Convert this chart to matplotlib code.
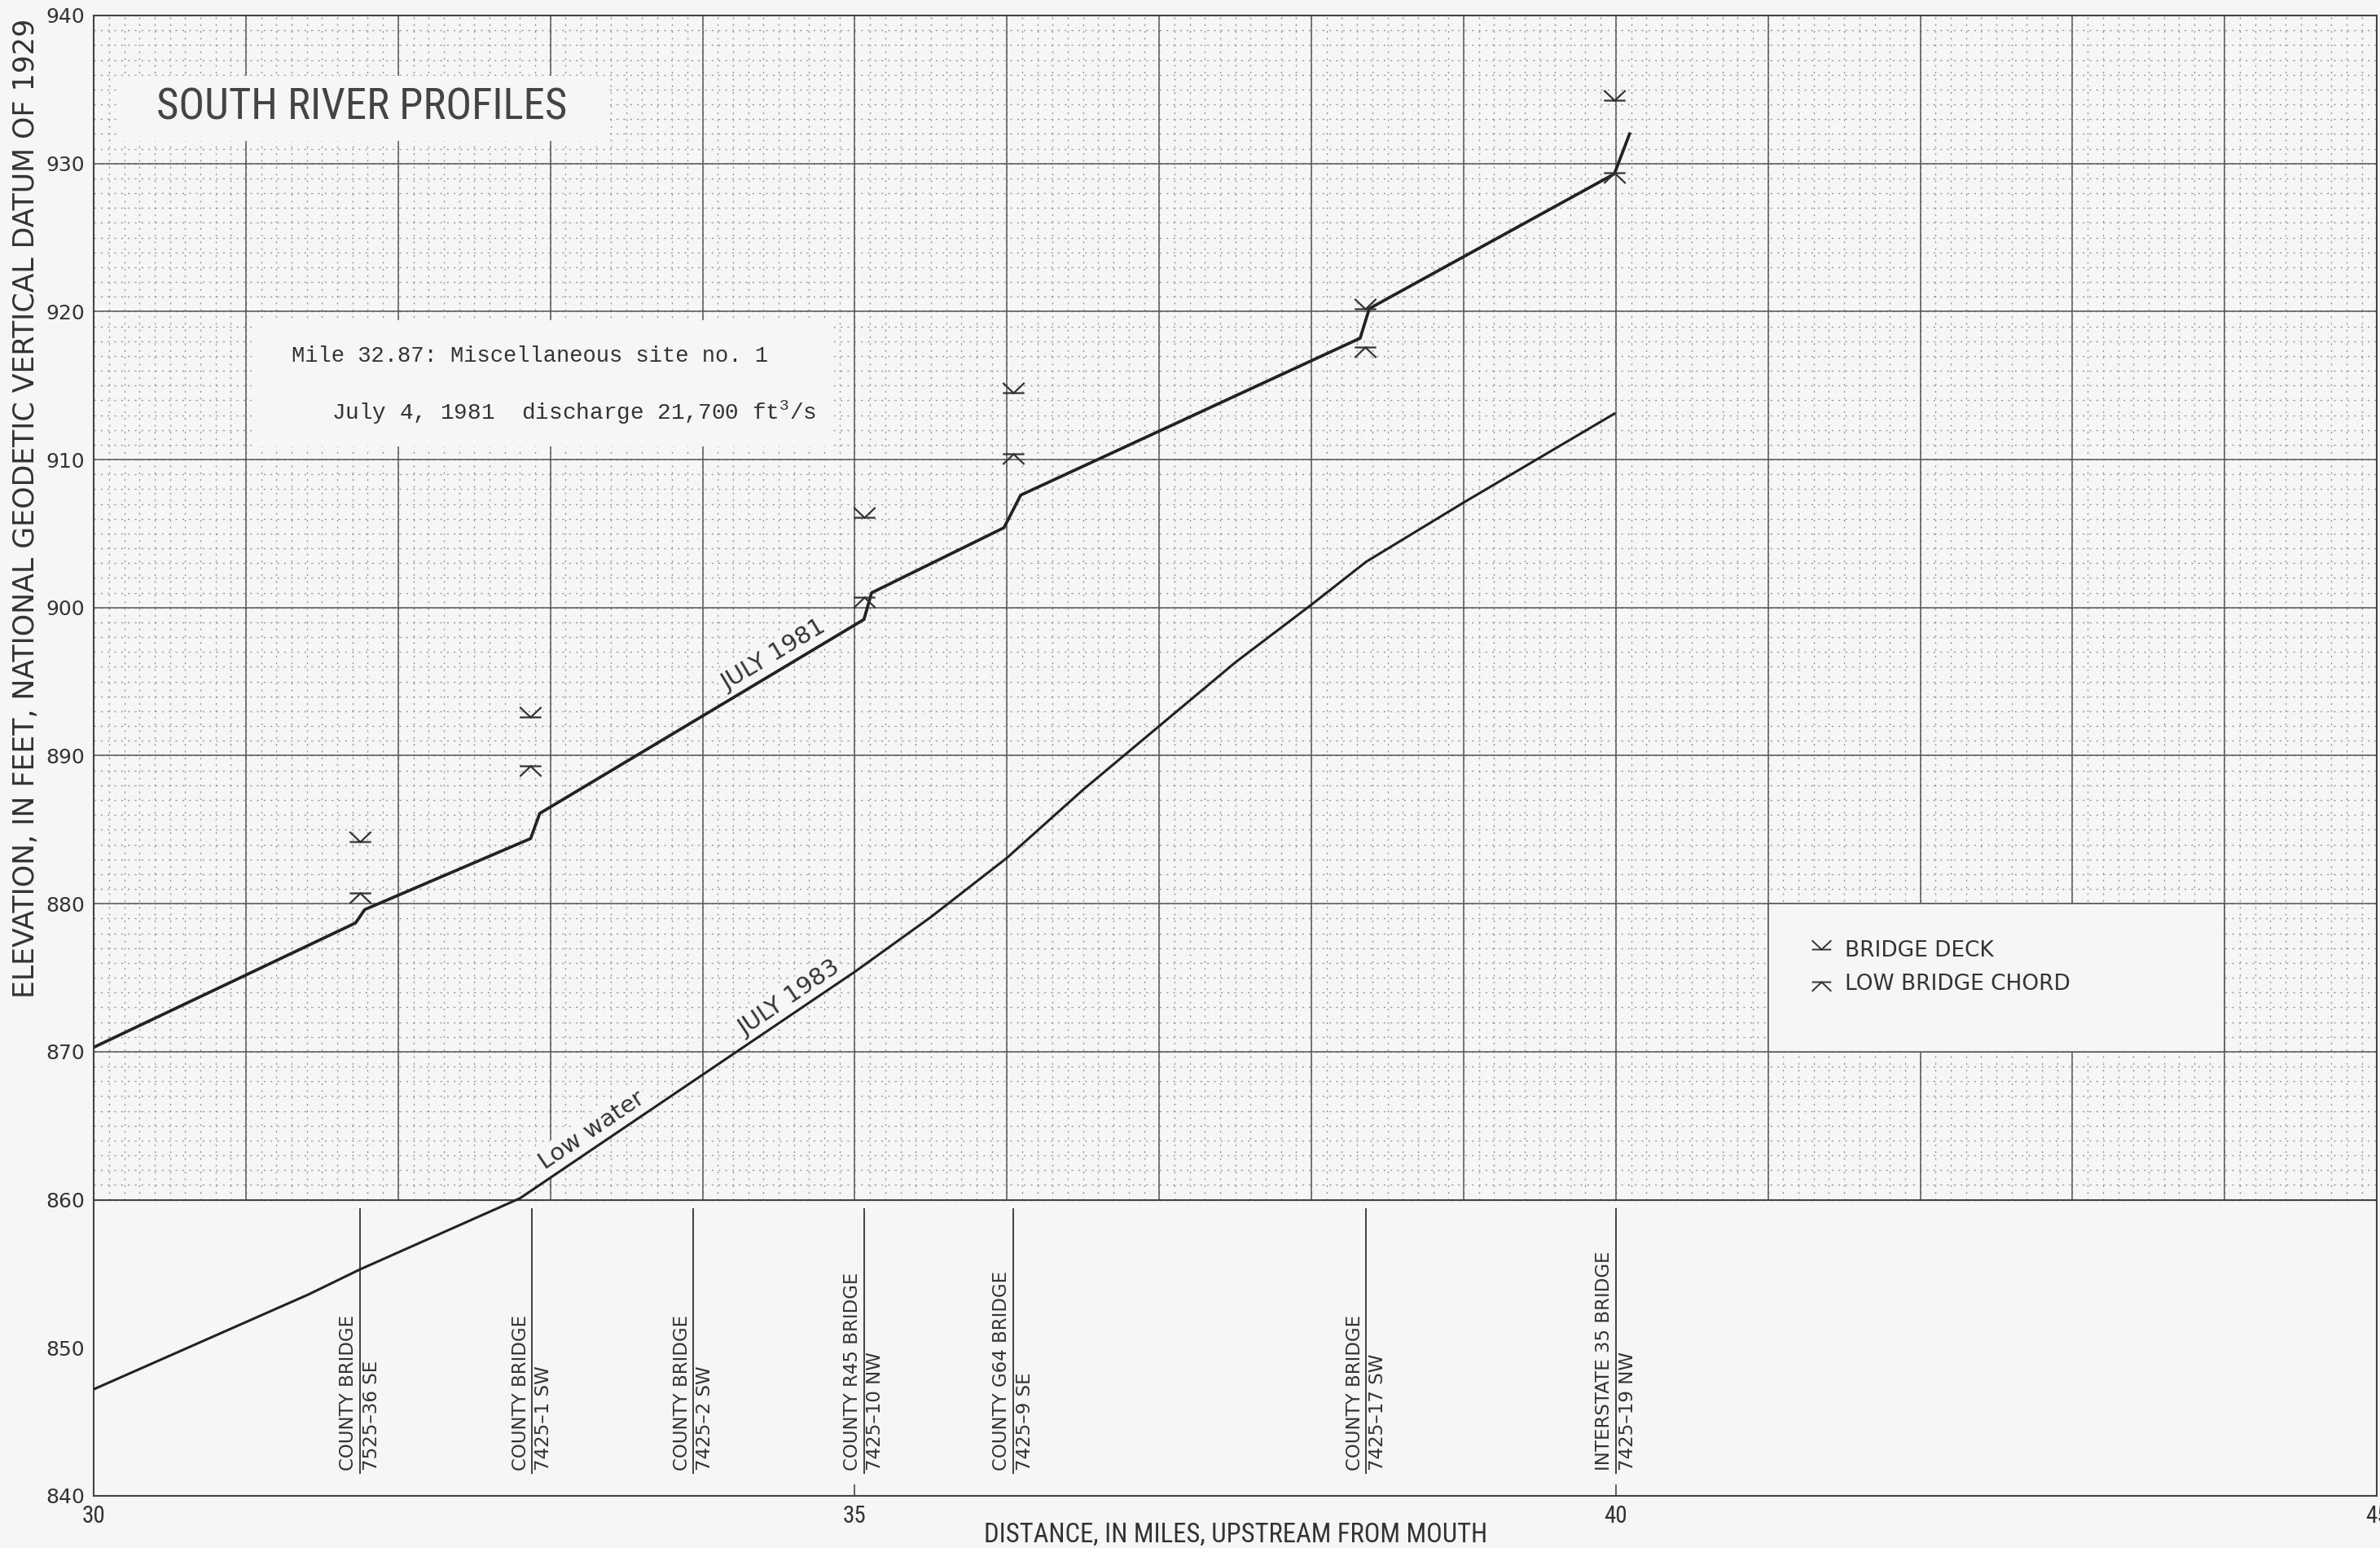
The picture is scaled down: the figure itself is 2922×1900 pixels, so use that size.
import numpy as np
import matplotlib
matplotlib.use('Agg')
import matplotlib.pyplot as plt
import matplotlib.transforms as mtransforms
from matplotlib.path import Path
from matplotlib.patches import Rectangle
from matplotlib.lines import Line2D

# water-surface profile of the July 1981 flood (miles upstream, elevation ft)
x_1981 = [30.0, 31.72, 31.78, 32.87, 32.93, 35.06, 35.11, 35.98, 36.09, 38.32, 38.38, 39.99, 40.09]
y_1981 = [870.3, 878.7, 879.6, 884.4, 886.1, 899.2, 901.0, 905.4, 907.6, 918.2, 920.2, 929.3, 932.0]

# low-water profile, July 1983
x_1983 = [30.0, 31.41, 31.75, 32.8, 35.0, 35.5, 36.0, 36.5, 37.0, 37.5, 38.0, 38.36, 39.0, 39.99]
y_1983 = [847.2, 853.6, 855.3, 860.1, 875.4, 879.1, 883.1, 887.7, 892.0, 896.3, 900.2, 903.1, 907.1, 913.1]

# bridge deck and low chord elevations
mark_x = [31.75, 32.87, 35.06, 36.04, 38.35, 39.99]
deck_y = [884.2, 892.6, 906.1, 914.5, 920.2, 934.3]
chord_y = [880.7, 889.3, 900.7, 910.4, 917.6, 929.4]

# bridges listed along the bottom of the profile
bridge_x = [31.75, 32.88, 33.94, 35.06, 36.04, 38.36, 40.0]
bridge_name = ['COUNTY BRIDGE', 'COUNTY BRIDGE', 'COUNTY BRIDGE', 'COUNTY R45 BRIDGE',
               'COUNTY G64 BRIDGE', 'COUNTY BRIDGE', 'INTERSTATE 35 BRIDGE']
bridge_id = ['7525\u201336 SE', '7425\u20131 SW', '7425\u20132 SW', '7425\u201310 NW',
             '7425\u20139 SE', '7425\u201317 SW', '7425\u201319 NW']

xticks = [30, 35, 40, 45]
yticks = list(range(840, 941, 10))

paper = '#f6f6f4'
ink = '#333333'
narrow = ['Liberation Sans Narrow', 'Roboto Condensed', 'DejaVu Sans']

# deck: bar with a V opening upward; chord: bar with the V opening downward
deck_marker = Path([(-1, 0), (1, 0), (-1, 0.95), (0, 0), (1, 0.95)],
                   [Path.MOVETO, Path.LINETO, Path.MOVETO, Path.LINETO, Path.LINETO])
chord_marker = Path([(-1, 0), (1, 0), (-1, -0.95), (0, 0), (1, -0.95)],
                    [Path.MOVETO, Path.LINETO, Path.MOVETO, Path.LINETO, Path.LINETO])

fig = plt.figure(figsize=(29.22, 19.0), dpi=100, facecolor=paper)
ax = fig.add_axes([0.0394, 0.0337, 0.9593, 0.9563])
ax.set_facecolor(paper)
ax.set_xlim(30, 45)
ax.set_ylim(840, 940)

# graph-paper grid, only above 860 ft
minor_x = np.arange(30, 45.001, 0.1)
minor_y = np.arange(860, 940.001, 1)
ax.vlines(minor_x, 860, 940, colors='#959595', linestyles=(0, (1.5, 4.5)), linewidth=1.0, zorder=1)
ax.hlines(minor_y, 30, 45, colors='#959595', linestyles=(0, (1.5, 4.5)), linewidth=1.0, zorder=1)
ax.vlines(np.arange(30, 46, 1), 860, 940, colors='#555555', linewidth=1.1, zorder=1.2)
ax.hlines(np.arange(860, 941, 10), 30, 45, colors='#555555', linewidth=1.1, zorder=1.2)
ax.axhline(860, color='#444444', linewidth=1.5, zorder=1.3)

# blank panels for the title, site note and explanation
ax.add_patch(Rectangle((30.17, 931.5), 3.2, 4.4, facecolor=paper, edgecolor='none', zorder=1.5))
ax.add_patch(Rectangle((31.04, 910.9), 3.81, 8.5, facecolor=paper, edgecolor='none', zorder=1.5))
ax.add_patch(Rectangle((41.0, 870.0), 3.0, 10.0, facecolor=paper, edgecolor='#555555',
                       linewidth=1.1, zorder=1.5))

ax.text(30.41, 933.8, 'SOUTH RIVER PROFILES', family=narrow, fontsize=38,
        color='#444444', ha='left', va='center', zorder=4)
ax.text(31.3, 917.0, 'Mile 32.87: Miscellaneous site no. 1', family='Liberation Mono',
        fontsize=19.5, color=ink, ha='left', va='center', zorder=4)
ax.text(31.56, 913.2, 'July 4, 1981  discharge 21,700 ft$^{\\mathregular{3}}$/s',
        family='Liberation Mono', fontsize=20, color=ink, ha='left', va='center', zorder=4)

# profiles
ax.plot(x_1981, y_1981, color='#222222', linewidth=2.7, solid_joinstyle='round', zorder=3)
ax.plot(x_1983, y_1983, color='#222222', linewidth=2.2, solid_joinstyle='round', zorder=3)

ax.plot(mark_x, deck_y, linestyle='none', marker=deck_marker, markersize=19,
        markeredgewidth=1.6, markeredgecolor='#333333', markerfacecolor='none', zorder=3)
ax.plot(mark_x, chord_y, linestyle='none', marker=chord_marker, markersize=19,
        markeredgewidth=1.6, markeredgecolor='#333333', markerfacecolor='none', zorder=3)


def line_label(xs, ys, xa, xb, text, dy):
    ya, yb = np.interp([xa, xb], xs, ys)
    ang = np.degrees(np.arctan2(yb - ya, xb - xa))
    xm = 0.5 * (xa + xb)
    ym = np.interp(xm, xs, ys) + dy
    ax.text(xm, ym, text, rotation=ang, transform_rotates_text=True,
            rotation_mode='anchor', ha='center', va='center', fontsize=21,
            color=ink, zorder=2.5,
            bbox=dict(facecolor=paper, edgecolor='none', pad=3))


line_label(x_1981, y_1981, 34.1, 34.84, 'JULY 1981', 1.2)
line_label(x_1983, y_1983, 34.2, 34.94, 'JULY 1983', 1.2)
line_label(x_1983, y_1983, 32.9, 33.64, 'Low water', 1.3)

# bridge names split by a vertical line at each crossing
for bx, name, bid in zip(bridge_x, bridge_name, bridge_id):
    ax.vlines(bx, 841.5, 859.4, colors='#333333', linewidth=1.3, zorder=2)
    ax.annotate(name, (bx, 841.7), xytext=(-2, 0), textcoords='offset points',
                rotation=90, ha='right', va='bottom', fontsize=16.5, color=ink)
    ax.annotate(bid, (bx, 841.7), xytext=(2, 0), textcoords='offset points',
                rotation=90, ha='left', va='bottom', fontsize=16.5, color=ink)

handles = [Line2D([], [], linestyle='none', marker=deck_marker, markersize=17,
                  markeredgewidth=1.4, markeredgecolor='#333333', markerfacecolor='none'),
           Line2D([], [], linestyle='none', marker=chord_marker, markersize=17,
                  markeredgewidth=1.4, markeredgecolor='#333333', markerfacecolor='none')]
leg = ax.legend(handles, ['BRIDGE DECK', 'LOW BRIDGE CHORD'], loc='center left',
                bbox_to_anchor=(41.15, 875.7), bbox_transform=ax.transData,
                frameon=False, fontsize=19, handlelength=1.0, handletextpad=0.6,
                labelspacing=0.55)
for t in leg.get_texts():
    t.set_color(ink)
leg.set_zorder(4)

# axes frame, ticks and labels
for s in ax.spines.values():
    s.set_color('#444444')
    s.set_linewidth(1.5)
ax.set_xticks(xticks)
ax.set_xticklabels([str(v) for v in xticks], family=narrow, fontsize=21, color=ink)
ax.set_yticks(yticks)
ax.set_yticklabels([str(v) for v in yticks], fontsize=18, color=ink)
ax.tick_params(axis='x', direction='in', length=10, width=1.2, color='#444444', pad=8)
ax.tick_params(axis='y', length=0, pad=8)

trans_y = mtransforms.blended_transform_factory(ax.transAxes, ax.transData)
ax.text(-0.0296, 906.7, 'ELEVATION, IN FEET, NATIONAL GEODETIC VERTICAL DATUM OF 1929',
        transform=trans_y, rotation=90, ha='center', va='center', fontsize=25, color=ink)
trans_x = mtransforms.blended_transform_factory(ax.transData, ax.transAxes)
ax.text(37.5, -0.026, 'DISTANCE, IN MILES, UPSTREAM FROM MOUTH', transform=trans_x,
        ha='center', va='center', family=narrow, fontsize=23.5, color=ink)

fig.savefig('out.png', dpi=100, facecolor=paper)
